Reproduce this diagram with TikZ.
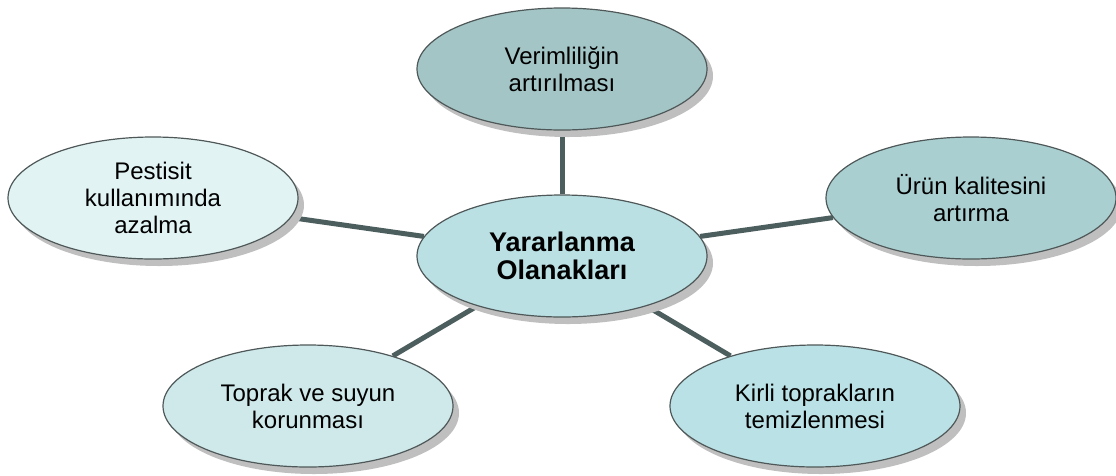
\documentclass[tikz,border=0pt]{standalone}
\usepackage{fontspec}
\setmainfont{Liberation Sans}
\usetikzlibrary{shapes.geometric,shadows,backgrounds,patterns}
\definecolor{cTop}{HTML}{A3C5C6}
\definecolor{cRight}{HTML}{AACFD1}
\definecolor{cCenter}{HTML}{BAE0E4}
\definecolor{cLeft}{HTML}{E2F3F4}
\definecolor{cBL}{HTML}{CFE9EB}
\definecolor{cBR}{HTML}{BAE1E5}
\definecolor{cEdge}{HTML}{4D5E5E}
\definecolor{cBorder}{HTML}{4F5858}
\tikzset{
  bubble/.style={ellipse, draw=cBorder, line width=1.2pt, minimum width=290pt, minimum height=122pt,
    inner sep=0pt, align=center, font=\fontsize{24}{27}\selectfont,
    drop shadow={shadow xshift=6pt, shadow yshift=-7pt, fill=gray!50, opacity=1, draw=none}},
  hub/.style={bubble, font=\fontsize{27}{28}\selectfont\bfseries},
  link/.style={draw=cEdge, line width=5pt}
}
\begin{document}
\begin{tikzpicture}[x=1pt,y=-1pt]
\useasboundingbox (0,0) rectangle (1116,475);
\node[hub, fill=cCenter] (c) at (562,256) {Yararlanma\\Olanakları};
\node[bubble, fill=cTop] (t) at (562,69) {Verimliliğin\\artırılması};
\node[bubble, fill=cLeft] (l) at (153,198) {Pestisit\\kullanımında\\azalma};
\node[bubble, fill=cRight] (r) at (971,198) {Ürün kalitesini\\artırma};
\node[bubble, fill=cBL] (bl) at (308,406) {Toprak ve suyun\\korunması};
\node[bubble, fill=cBR] (br) at (815,406) {Kirli toprakların\\temizlenmesi};
\begin{scope}[on background layer]
\draw[link] (c) -- (t);
\draw[link] (c) -- (l);
\draw[link] (c) -- (r);
\draw[link] (c) -- (bl);
\draw[link] (c) -- (br);
\end{scope}
\end{tikzpicture}
\end{document}
